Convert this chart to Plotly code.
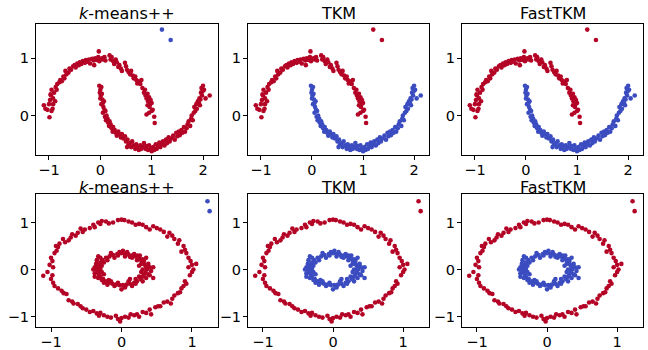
import plotly.graph_objects as go

RED = "#b40426"
BLUE = "#3b4cc0"

titles = ["<i>k</i>-means++", "TKM", "FastTKM"]

# ---- moons data ----
moon_upper = [
    (-1.10, 0.18), (-1.07, 0.12), (-1.03, 0.10), (-0.99, -0.03), (-1.00, 0.20), (-0.95, 0.08),
    (-0.93, 0.12), (-0.98, 0.27), (-0.96, 0.35), (-0.92, 0.30), (-0.95, 0.45), (-0.90, 0.40),
    (-0.88, 0.25), (-0.92, 0.20), (-0.97, 0.37), (-0.87, 0.50), (-0.84, 0.55), (-0.80, 0.58),
    (-0.85, 0.45), (-0.78, 0.62), (-0.75, 0.60), (-0.72, 0.68), (-0.70, 0.65), (-0.66, 0.72),
    (-0.68, 0.78), (-0.62, 0.75), (-0.60, 0.82), (-0.57, 0.80), (-0.53, 0.86), (-0.50, 0.88),
    (-0.48, 0.84), (-0.45, 0.91), (-0.42, 0.88), (-0.40, 0.93), (-0.37, 0.90), (-0.34, 0.95),
    (-0.30, 0.92), (-0.28, 0.97), (-0.25, 0.94), (-0.22, 0.98), (-0.20, 0.91), (-0.16, 0.99),
    (-0.13, 0.96), (-0.10, 1.00), (-0.07, 0.97), (-0.04, 1.02), (-0.02, 0.95), (-0.03, 1.12),
    (0.03, 1.00), (0.05, 0.98), (0.08, 1.02), (0.10, 0.96), (-0.12, 0.88), (0.18, 1.05),
    (0.20, 0.98), (0.22, 1.02), (0.25, 0.95), (0.27, 0.90), (0.30, 0.98), (0.32, 0.93),
    (0.35, 0.85), (0.37, 0.88), (0.40, 0.82), (0.42, 0.78), (0.48, 0.92), (0.50, 0.86),
    (0.52, 0.80), (0.55, 0.76), (0.58, 0.72), (0.60, 0.78), (0.63, 0.70), (0.65, 0.65),
    (0.68, 0.68), (0.70, 0.62), (0.72, 0.56), (0.74, 0.60), (0.78, 0.55), (0.80, 0.62),
    (0.82, 0.48), (0.85, 0.40), (0.87, 0.45), (0.88, 0.35), (0.90, 0.30), (0.92, 0.38),
    (0.93, 0.25), (0.95, 0.32), (0.97, 0.20), (0.96, 0.15), (0.98, 0.27), (1.00, 0.22),
    (1.02, 0.10), (0.90, 0.02), (1.05, -0.02), (1.06, -0.13), (0.95, 0.05), (1.00, 0.08),
    (0.92, 0.18),
]
moon_lower = [
    (-0.02, 0.52), (0.00, 0.45), (0.02, 0.50), (-0.01, 0.40), (0.01, 0.35), (0.03, 0.38),
    (0.00, 0.30), (0.04, 0.28), (0.05, 0.22), (0.02, 0.20), (0.07, 0.25), (0.06, 0.15),
    (0.08, 0.10), (0.05, 0.05), (0.10, 0.08), (0.09, -0.02), (0.12, 0.00), (0.11, -0.08),
    (0.14, -0.05), (0.15, -0.12), (0.18, -0.10), (0.17, -0.18), (0.20, -0.15), (0.22, -0.22),
    (0.25, -0.20), (0.24, -0.28), (0.28, -0.25), (0.30, -0.30), (0.32, -0.35), (0.35, -0.28),
    (0.38, -0.33), (0.40, -0.38), (0.42, -0.32), (0.45, -0.40), (0.48, -0.36), (0.50, -0.45),
    (0.53, -0.42), (0.55, -0.50), (0.58, -0.48), (0.52, -0.55), (0.60, -0.55), (0.62, -0.45),
    (0.65, -0.52), (0.68, -0.58), (0.70, -0.50), (0.72, -0.55), (0.75, -0.60), (0.78, -0.52),
    (0.80, -0.58), (0.83, -0.55), (0.85, -0.48), (0.88, -0.58), (0.90, -0.53), (0.93, -0.60),
    (0.95, -0.52), (0.98, -0.57), (1.00, -0.62), (1.03, -0.55), (1.05, -0.60), (1.08, -0.50),
    (1.10, -0.58), (1.12, -0.52), (1.15, -0.47), (1.17, -0.55), (1.20, -0.50), (1.22, -0.45),
    (1.25, -0.52), (1.28, -0.42), (1.30, -0.48), (1.33, -0.38), (1.35, -0.45), (1.38, -0.40),
    (1.42, -0.35), (1.45, -0.42), (1.48, -0.30), (1.50, -0.36), (1.53, -0.28), (1.55, -0.34),
    (1.58, -0.25), (1.60, -0.30), (1.63, -0.20), (1.65, -0.28), (1.68, -0.22), (1.70, -0.15),
    (1.72, -0.10), (1.75, -0.18), (1.77, -0.05), (1.78, 0.00), (1.80, -0.08), (1.82, 0.05),
    (1.85, 0.08), (1.83, 0.15), (1.87, 0.20), (1.88, 0.12), (1.90, 0.25), (1.92, 0.22),
    (1.93, 0.30), (1.95, 0.28), (1.96, 0.40), (1.98, 0.35), (1.97, 0.48), (2.00, 0.52),
    (2.02, 0.45), (1.99, 0.42), (2.05, 0.30), (2.13, 0.35), (1.94, 0.18),
]
moon_outliers = [(1.20, 1.50), (1.37, 1.32)]

# ---- circles data ----
circ_outer = [
    (-0.05, 1.05), (0.00, 1.06), (0.04, 1.05), (-0.12, 1.00), (-0.18, 0.98), (-0.22, 1.02),
    (-0.28, 1.03), (-0.30, 0.97), (-0.33, 1.00), (-0.38, 0.90), (-0.40, 0.95), (-0.45, 0.88),
    (-0.52, 0.85), (-0.55, 0.80), (-0.58, 0.87), (-0.62, 0.78), (-0.65, 0.72), (-0.70, 0.75),
    (-0.72, 0.68), (-0.75, 0.62), (-0.80, 0.58), (-0.83, 0.65), (-0.88, 0.55), (-0.90, 0.48),
    (-0.93, 0.50), (-0.92, 0.40), (-0.95, 0.35), (-1.00, 0.25), (-0.98, 0.18), (-1.02, 0.10),
    (-0.97, 0.05), (-1.05, -0.05), (-1.11, -0.13), (-0.98, -0.12), (-1.00, -0.20), (-0.97, -0.28),
    (-0.95, -0.35), (-0.90, -0.40), (-0.85, -0.45), (-0.82, -0.50), (-0.78, -0.52), (-0.75, -0.65),
    (-0.70, -0.68), (-0.68, -0.72), (-0.62, -0.73), (-0.58, -0.78), (-0.55, -0.82), (-0.50, -0.85),
    (-0.45, -0.90), (-0.40, -0.88), (-0.35, -0.93), (-0.30, -0.92), (-0.32, -0.98), (-0.25, -0.97),
    (-0.20, -1.00), (-0.15, -1.02), (-0.08, -0.98), (-0.05, -1.05), (-0.02, -1.10), (0.00, -1.03),
    (0.05, -1.00), (0.10, -1.02), (0.13, -0.95), (0.18, -0.97), (0.22, -0.95), (0.25, -1.00),
    (0.30, -0.90), (0.35, -0.92), (0.40, -0.85), (0.42, -0.95), (0.48, -0.80), (0.52, -0.78),
    (0.55, -0.78), (0.60, -0.70), (0.65, -0.68), (0.70, -0.72), (0.72, -0.62), (0.75, -0.55),
    (0.80, -0.50), (0.83, -0.48), (0.85, -0.40), (0.88, -0.35), (0.90, -0.25), (0.92, -0.30),
    (0.97, -0.12), (1.00, -0.05), (1.02, 0.00), (0.95, 0.05), (1.00, 0.10), (0.98, 0.18),
    (1.06, 0.12), (0.95, 0.25), (0.92, 0.35), (0.90, 0.42), (0.85, 0.38), (0.88, 0.50),
    (0.80, 0.55), (0.82, 0.62), (0.75, 0.65), (0.72, 0.72), (0.68, 0.78), (0.65, 0.70),
    (0.60, 0.80), (0.55, 0.85), (0.50, 0.88), (0.45, 0.92), (0.40, 0.85), (0.35, 0.90),
    (0.30, 0.95), (0.25, 0.97), (0.20, 0.95), (0.15, 1.00), (0.10, 1.02),
]
circ_inner = [
    (0.00, 0.35), (0.05, 0.33), (0.10, 0.32), (0.15, 0.30), (0.20, 0.28), (0.25, 0.25),
    (0.28, 0.20), (0.30, 0.15), (0.33, 0.10), (0.35, 0.05), (0.36, 0.00), (0.34, -0.05),
    (0.32, -0.10), (0.30, -0.15), (0.27, -0.20), (0.22, -0.25), (0.18, -0.28), (0.12, -0.30),
    (0.07, -0.32), (0.02, -0.33), (-0.03, -0.33), (-0.08, -0.32), (-0.13, -0.30), (-0.18, -0.28),
    (-0.22, -0.25), (-0.26, -0.20), (-0.30, -0.15), (-0.32, -0.10), (-0.34, -0.05), (-0.35, 0.00),
    (-0.34, 0.05), (-0.32, 0.10), (-0.30, 0.15), (-0.27, 0.20), (-0.22, 0.25), (-0.17, 0.28),
    (-0.12, 0.31), (-0.06, 0.33), (0.02, 0.40), (-0.03, 0.37), (0.08, 0.37), (0.12, 0.27),
    (0.18, 0.33), (0.22, 0.30), (0.26, 0.30), (0.30, 0.22), (0.32, 0.18), (0.28, 0.12),
    (0.38, 0.12), (0.40, 0.05), (0.45, 0.05), (0.42, -0.03), (0.30, 0.00), (0.28, -0.05),
    (0.38, -0.10), (0.45, -0.18), (0.35, -0.18), (0.25, -0.15), (0.20, -0.20), (0.30, -0.25),
    (0.15, -0.35), (0.10, -0.25), (0.05, -0.38), (0.00, -0.42), (-0.05, -0.28), (-0.10, -0.35),
    (-0.15, -0.25), (-0.20, -0.32), (-0.25, -0.28), (-0.28, -0.22), (-0.33, -0.18), (-0.38, -0.08),
    (-0.40, 0.00), (-0.38, 0.05), (-0.30, 0.02), (-0.36, 0.12), (-0.35, 0.20), (-0.30, 0.25),
    (-0.25, 0.15), (-0.20, 0.20), (-0.28, 0.08), (-0.32, -0.02), (-0.25, -0.10), (-0.18, -0.22),
    (-0.10, 0.25), (-0.15, 0.35), (-0.05, 0.30), (0.05, 0.28), (0.15, 0.25), (0.22, 0.20),
    (0.25, 0.08), (0.20, -0.30), (0.12, -0.20), (-0.28, -0.05), (-0.38, -0.15), (-0.33, 0.28),
    (0.35, 0.25), (0.40, -0.12),
]
circ_outliers = [(1.22, 1.45), (1.25, 1.24)]

moon_xticks = [-1, 0, 1, 2]
moon_yticks = [0, 1]
circ_xticks = [-1, 0, 1]
circ_yticks = [-1, 0, 1]

# colours per method: (group A, group B, outliers)
moon_colors = [(RED, RED, BLUE), (RED, BLUE, RED), (RED, BLUE, RED)]
circ_colors = [(RED, RED, BLUE), (RED, BLUE, RED), (RED, BLUE, RED)]

W, H = 648, 350
col_px = [(36, 218), (248, 429), (462, 643)]
row_px = [(25, 160), (200, 337)]
title_y_px = [14, 193]

fig = go.Figure()

def add_pts(pts, color, ax):
    fig.add_trace(go.Scatter(
        x=[p[0] for p in pts], y=[p[1] for p in pts], mode="markers",
        marker=dict(color=color, size=4.6, line=dict(width=0)),
        xaxis="x" + ax, yaxis="y" + ax, showlegend=False, hoverinfo="skip"))

layout = {}
idx = 0
for r in range(2):
    for c in range(3):
        idx += 1
        ax = "" if idx == 1 else str(idx)
        if r == 0:
            groups = (moon_upper, moon_lower, moon_outliers)
            cols = moon_colors[c]
            xr, yr = [-1.253, 2.292], [-0.695, 1.593]
            xt, yt = moon_xticks, moon_yticks
        else:
            groups = (circ_outer, circ_inner, circ_outliers)
            cols = circ_colors[c]
            xr, yr = [-1.213, 1.369], [-1.227, 1.598]
            xt, yt = circ_xticks, circ_yticks
        for g, col in zip(groups, cols):
            add_pts(g, col, ax)
        x0, x1 = col_px[c]
        y0, y1 = row_px[r]
        common = dict(showgrid=False, zeroline=False, showline=True, mirror=True,
                      linecolor="black", linewidth=1, ticks="outside", ticklen=4,
                      tickwidth=1, tickcolor="black",
                      tickfont=dict(size=14.5, color="black", family="DejaVu Sans"))
        layout["xaxis" + ax] = dict(domain=[x0 / W, x1 / W], range=xr, tickvals=xt,
                                    anchor="y" + ax, ticklabelstandoff=-3, **common)
        layout["yaxis" + ax] = dict(domain=[1 - y1 / H, 1 - y0 / H], range=yr, tickvals=yt,
                                    anchor="x" + ax, ticklabelstandoff=-1, **common)
        fig.add_annotation(text=titles[c], x=(x0 + x1) / 2 / W,
                           y=1 - title_y_px[r] / H,
                           xref="paper", yref="paper", showarrow=False,
                           xanchor="center", yanchor="middle",
                           font=dict(size=16, color="black", family="DejaVu Sans"))

fig.update_layout(width=W, height=H, margin=dict(l=0, r=0, t=0, b=0),
                  paper_bgcolor="white", plot_bgcolor="white",
                  font=dict(family="DejaVu Sans", color="black"), **layout)

fig.write_html(
    "out.html",
    config={"displayModeBar": False, "staticPlot": True},
    post_script=(
        "var d=document.getElementById('{plot_id}');"
        "d.style.position='fixed';d.style.left='0px';d.style.top='0px';"
        "document.body.style.margin='0';"
    ),
)
